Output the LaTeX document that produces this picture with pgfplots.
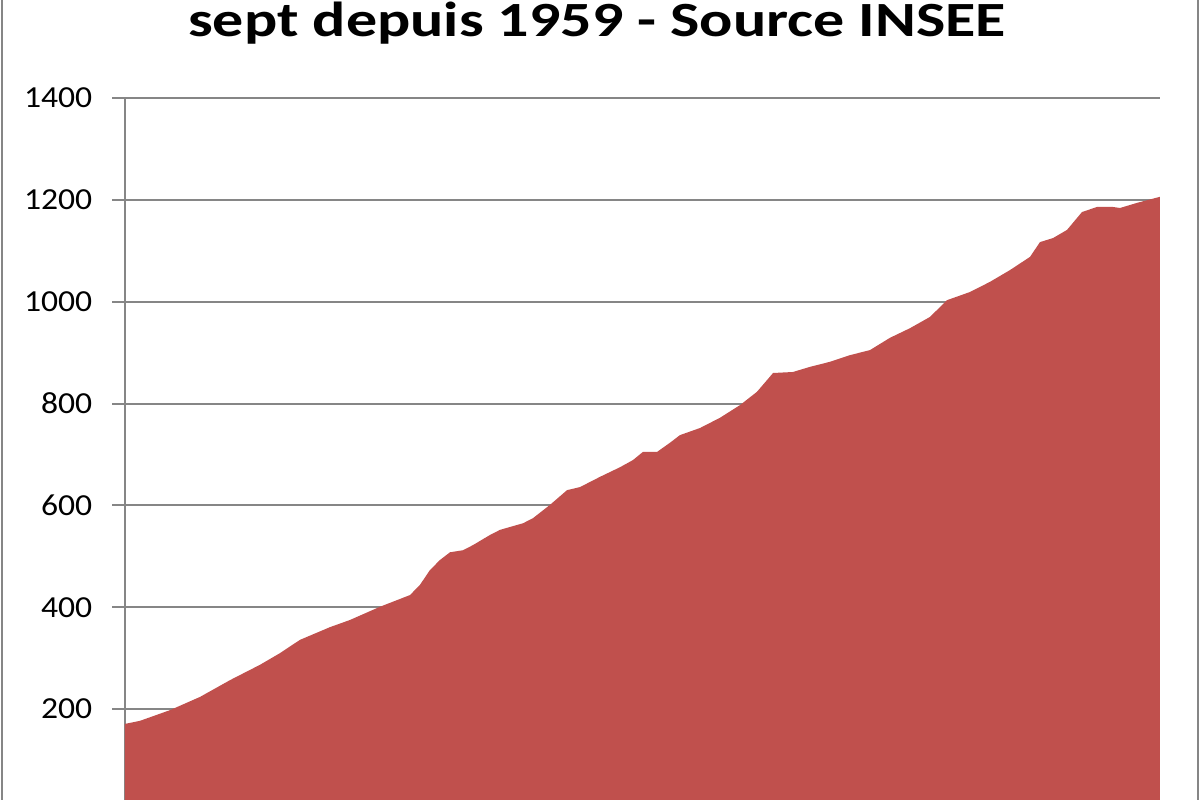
\documentclass[border=0pt]{standalone}
\usepackage{pgfplots}
\pgfplotsset{compat=1.18}
\usepackage{fontspec}
\setmainfont{Carlito}
\definecolor{areared}{RGB}{192,80,77}
\definecolor{gridgray}{RGB}{134,134,134}
\begin{document}
\begin{tikzpicture}[x=1mm,y=1mm]
\useasboundingbox (0,0) rectangle (120,80);
\clip (0,0) rectangle (120,80);
\fill[white] (0,0) rectangle (120,80);
\begin{axis}[
  at={(12.5mm,-1.1mm)}, anchor=south west,
  scale only axis, width=103.5mm, height=71.3mm,
  xmin=1959, xmax=2011, ymin=0, ymax=1400,
  ytick={200,400,...,1400},
  xtick=\empty,
  ymajorgrids, grid style={gridgray, line width=0.2mm},
  axis line style={gridgray, line width=0.2mm},
  axis x line*=bottom, axis y line*=left,
  tick align=outside, major tick length=1.3mm,
  major tick style={gridgray, line width=0.2mm},
  tick label style={font=\fontsize{8.7}{10}\selectfont, black},
  /pgf/number format/assume math mode=true,
  /pgf/number format/1000 sep={},
  yticklabel style={anchor=east, inner sep=0pt, xshift=-1.9mm, xscale=1.1},
  clip=false,
]
\addplot[draw=none, fill=areared] coordinates {
(1959.00,171) (1959.75,177) (1961.26,198) (1962.77,224) (1964.28,257)
(1965.78,287) (1966.79,310) (1967.79,336) (1969.30,361) (1970.30,375)
(1971.81,401) (1973.32,424) (1973.82,444) (1974.32,473) (1974.83,493)
(1975.33,508) (1975.98,512) (1976.48,522) (1977.34,542) (1977.84,552)
(1979.00,565) (1979.50,575) (1980.35,601) (1981.21,630) (1981.86,636)
(1982.86,656) (1983.87,675) (1984.52,689) (1985.02,705) (1985.73,705)
(1986.38,723) (1986.88,738) (1987.89,752) (1988.89,772) (1989.90,797)
(1990.75,823) (1991.56,860) (1992.56,862) (1993.41,872) (1994.42,882)
(1995.42,895) (1996.43,905) (1997.43,929) (1998.44,948) (1999.44,970)
(2000.30,1003) (2001.45,1019) (2002.46,1039) (2003.46,1062) (2004.47,1088)
(2004.97,1117) (2005.63,1125) (2006.33,1141) (2007.08,1176) (2007.83,1186)
(2008.64,1186) (2008.99,1184) (2009.84,1194) (2011.00,1206)
} \closedcycle;
\end{axis}
\node[anchor=base, font=\fontsize{14}{16}\selectfont\bfseries, inner sep=0pt, xscale=1.26] at (59.7,76.35) {sept depuis 1959 - Source INSEE};
\draw[gridgray, line width=0.2mm] (0.2,-5) rectangle (119.75,90);
\end{tikzpicture}
\end{document}
